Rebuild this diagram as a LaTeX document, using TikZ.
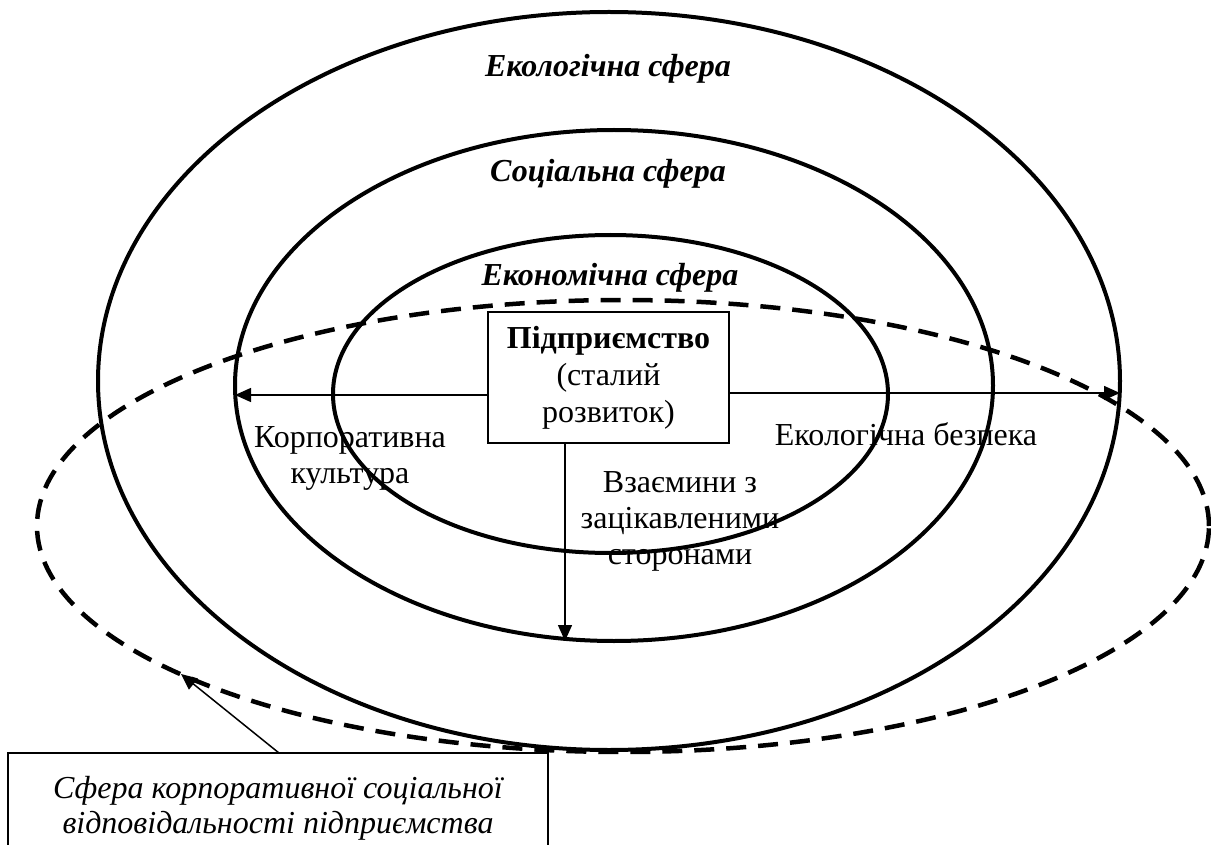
\documentclass[tikz,border=0pt]{standalone}
\usepackage{fontspec}
\setmainfont{Liberation Serif}
\usetikzlibrary{shapes.geometric,arrows.meta}
\begin{document}
\begin{tikzpicture}[x=1pt,y=-1pt,
  sphere/.style={ellipse, draw, line width=4pt, inner sep=0pt, outer sep=0pt},
  csr/.style={ellipse, draw, line width=4.5pt, dash pattern=on 20pt off 12pt, inner sep=0pt, outer sep=0pt},
  lbl/.style={font=\fontsize{32}{36}\selectfont, inner sep=0pt, anchor=base},
  title/.style={lbl, font=\fontsize{32}{36}\selectfont\bfseries\itshape},
  arr/.style={line width=1.5pt, -{Triangle[length=16pt,width=14pt]}},
  frame/.style={draw, line width=1.5pt, inner sep=0pt, outer sep=0pt, align=center}
]
\useasboundingbox (0,0) rectangle (1211,845);
\clip (0,0) rectangle (1211,845);
\fill[white] (0,0) rectangle (1211,845);

\node[sphere, minimum width=1022pt, minimum height=738pt] (outer) at (609,381) {};
\node[sphere, minimum width=758pt, minimum height=511pt] (social) at (614,385.5) {};
\node[sphere, minimum width=555pt, minimum height=318pt] (econ) at (610.5,394) {};
\node[csr, minimum width=1172pt, minimum height=452pt] (csrell) at (623,526) {};

\node[title] (ecoT) at (608,77) {Екологічна сфера};
\node[title] (socT) at (608,182) {Соціальна сфера};
\node[title] (ecnT) at (610,286) {Економічна сфера};

\node[frame, fill=white, minimum width=241pt, minimum height=131pt,
  font=\fontsize{32}{37}\selectfont] (firm) at (608.5,377.5)
  {\textbf{Підприємство}\\(сталий\\розвиток)};

\node[lbl, align=center] (corp) at (350,483) {Корпоративна\\культура};
\node[lbl] (safe) at (906,445) {Екологічна безпека};
\node[lbl, align=center] (stake) at (680,564) {Взаємини з\\зацікавленими\\сторонами};

\node[frame, minimum width=540pt, minimum height=110pt,
  font=\fontsize{32}{35}\selectfont\itshape] (note) at (278,808)
  {Сфера корпоративної соціальної\\відповідальності підприємства};

\coordinate (ly) at (0,395);
\coordinate (ry) at (0,393);
\coordinate (vx) at (565,0);
\coordinate (pst) at (279,0);
\coordinate (ptip) at (181,674);

\draw[arr] (firm.west |- ly) -- (social.west |- ly);
\draw[arr] (firm.east |- ry) -- (outer.east |- ry);
\draw[arr] (firm.south -| vx) -- (social.south -| vx);
\draw[arr] (note.north -| pst) -- (ptip);
\end{tikzpicture}
\end{document}
